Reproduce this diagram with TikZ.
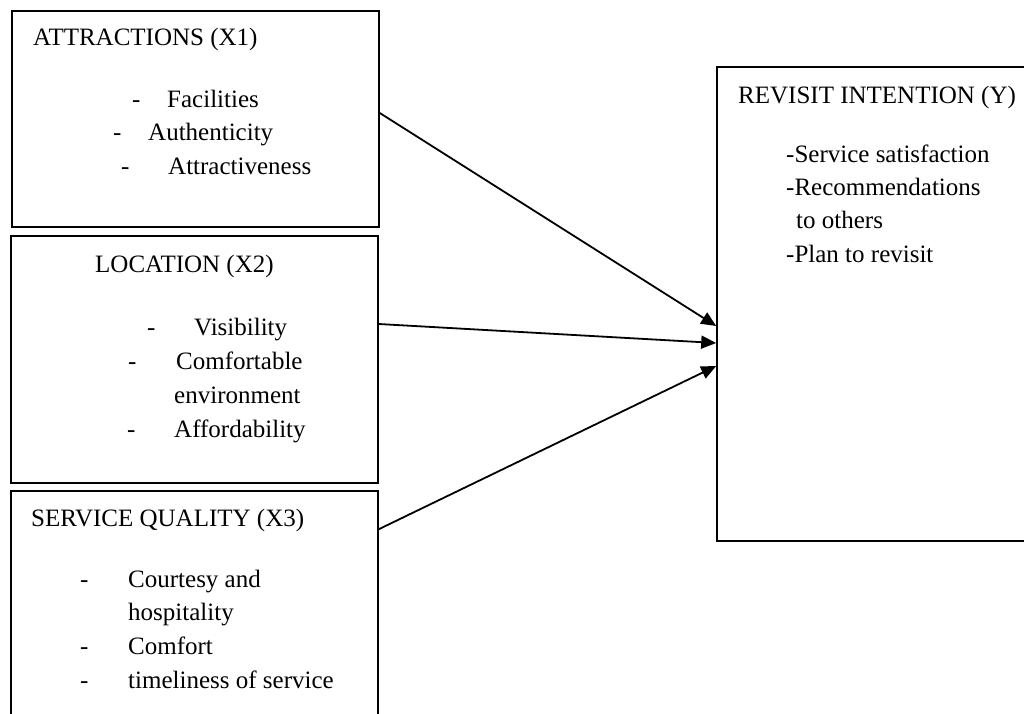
\documentclass[tikz,border=0pt]{standalone}
\usepackage{fontspec}
\setmainfont{Liberation Serif}
\usetikzlibrary{arrows.meta}
\tikzset{
  lbl/.style={anchor=base west, inner sep=0pt, font=\fontsize{25}{34}\selectfont},
  box/.style={draw, line width=1.6pt, rectangle, inner sep=0pt},
  conn/.style={line width=1.8pt, -{Triangle[length=15pt,width=13pt]}}
}
\begin{document}
\begin{tikzpicture}[x=1pt,y=-1pt]
\useasboundingbox (0,0) rectangle (1024,713);
\clip (0,0) rectangle (1024,713);
% boxes
\node[box, minimum width=367pt, minimum height=216pt] (b1) at (195.5,119) {};
\node[box, minimum width=367pt, minimum height=247pt] (b2) at (194.5,359.5) {};
\node[box, minimum width=367pt, minimum height=269pt] (b3) at (194.5,625.5) {};
\node[box, minimum width=323pt, minimum height=474pt] (bY) at (878.5,304) {};
% box 1
\node[lbl] (t1) at (33,45) {ATTRACTIONS (X1)};
\node[lbl] (d11) at (132,107) {-};
\node[lbl] (i11) at (167,107) {Facilities};
\node[lbl] (d12) at (113,140) {-};
\node[lbl] (i12) at (148,140) {Authenticity};
\node[lbl] (d13) at (121,174) {-};
\node[lbl] (i13) at (168,174) {Attractiveness};
% box 2
\node[lbl] (t2) at (95,272) {LOCATION (X2)};
\node[lbl] (d21) at (147,335) {-};
\node[lbl] (i21) at (194,335) {Visibility};
\node[lbl] (d22) at (128,369) {-};
\node[lbl] (i22) at (176,369) {Comfortable};
\node[lbl] (i22b) at (174,403) {environment};
\node[lbl] (d23) at (127,437) {-};
\node[lbl] (i23) at (174,437) {Affordability};
% box 3
\node[lbl] (t3) at (31,526) {SERVICE QUALITY (X3)};
\node[lbl] (d31) at (80,587) {-};
\node[lbl] (i31) at (128,587) {Courtesy and};
\node[lbl] (i31b) at (128,620) {hospitality};
\node[lbl] (d32) at (80,654) {-};
\node[lbl] (i32) at (128,654) {Comfort};
\node[lbl] (d33) at (80,688) {-};
\node[lbl] (i33) at (128,688) {timeliness of service};
% box Y
\node[lbl] (tY) at (738,103) {REVISIT INTENTION (Y)};
\node[lbl] (iY1) at (786,162) {-Service satisfaction};
\node[lbl] (iY2) at (786,195) {-Recommendations};
\node[lbl] (iY2b) at (796,228) {to others};
\node[lbl] (iY3) at (786,262) {-Plan to revisit};
% connectors
\draw[conn] ([yshift=6pt]b1.east) -- ([yshift=-22pt]bY.west);
\draw[conn] ([yshift=35.5pt]b2.east) -- ([yshift=-39pt]bY.west);
\draw[conn] ([yshift=-39pt]b3.north east) -- ([yshift=-62pt]bY.west);
\end{tikzpicture}
\end{document}
